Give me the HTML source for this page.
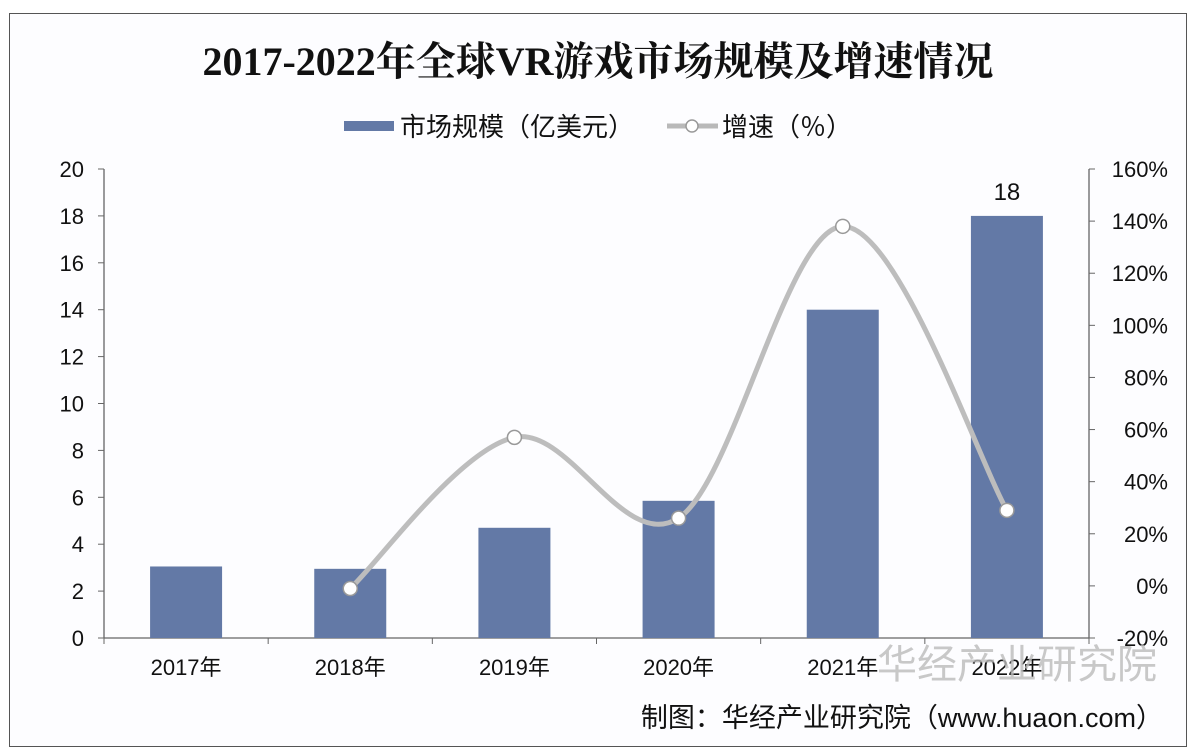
<!DOCTYPE html>
<html><head><meta charset="utf-8"><style>
html,body{margin:0;padding:0;background:#fff;}
body{width:1196px;height:756px;overflow:hidden;position:relative;font-family:"Liberation Sans","Noto Sans CJK SC",sans-serif;}
#frame{position:absolute;left:9px;top:13px;width:1178px;height:734px;border:1.5px solid #555;background:#fdfdff;box-sizing:border-box;}
</style></head><body>
<div id="frame"></div>
<svg id="chart" width="1196" height="756" style="position:absolute;left:0;top:0">
<text x="598" y="75" text-anchor="middle" font-family="Liberation Serif,Noto Serif CJK SC,serif" font-weight="bold" font-size="40" fill="#111">2017-2022年全球VR游戏市场规模及增速情况</text>
<g>
<rect x="344" y="121" width="50" height="10" fill="#6379a6"/>
<text x="400" y="136" font-size="26" fill="#111">市场规模（亿美元）</text>
<line x1="667" y1="126" x2="718" y2="126" stroke="#b9b9b9" stroke-width="5"/>
<circle cx="692" cy="126" r="6" fill="#fff" stroke="#999" stroke-width="1.5"/>
<text x="722" y="136" font-size="26" fill="#111">增速（％）</text>
</g>
<g id="axes"></g><g id="bars"></g><g id="line"></g>
<text x="1017" y="678" font-size="40" fill="#bbb" opacity="0.8" text-anchor="middle">华经产业研究院</text>
<text x="1163" y="727" text-anchor="end" font-size="27" fill="#111">制图：华经产业研究院（www.huaon.com）</text>
</svg>
<script>
const categories=["2017年","2018年","2019年","2020年","2021年","2022年"];
const marketSize=[3.05,2.95,4.7,5.85,14,18];
const growth=[null,-1,57,26,138,29];
const leftTicks=[0,2,4,6,8,10,12,14,16,18,20];
const rightTicks=[-20,0,20,40,60,80,100,120,140,160];
const NS="http://www.w3.org/2000/svg";
const X0=104,X1=1089,Y0=638,Y1=169;
const yL=v=>Y0-(v/20)*(Y0-Y1);
const yR=v=>Y0-((v+20)/180)*(Y0-Y1);
const band=(X1-X0)/categories.length;
const xC=i=>X0+band*(i+0.5);
function mk(t,a,p){const e=document.createElementNS(NS,t);for(const k in a)e.setAttribute(k,a[k]);(p||document.getElementById('chart')).appendChild(e);return e;}
const ax=document.getElementById('axes');
let e=mk('line',{x1:X0,y1:Y1,x2:X0,y2:Y0,stroke:'#666','stroke-width':1.3},ax);

e=mk('line',{x1:X1,y1:Y1,x2:X1,y2:Y0,stroke:'#666','stroke-width':1.3},ax);

e=mk('line',{x1:X0,y1:Y0,x2:X1,y2:Y0,stroke:'#666','stroke-width':1.3},ax);

leftTicks.forEach(v=>{const y=yL(v);mk('line',{x1:X0-6,y1:y,x2:X0,y2:y,stroke:'#666'},ax);
const t=mk('text',{x:84,y:y+8,'text-anchor':'end','font-size':22,fill:'#111'},ax);t.textContent=v;
});
rightTicks.forEach(v=>{const y=yR(v);mk('line',{x1:X1,y1:y,x2:X1+6,y2:y,stroke:'#666'},ax);
const t=mk('text',{x:1168,y:y+8,'text-anchor':'end','font-size':22,fill:'#111'},ax);t.textContent=v+'%';
});
for(let i=0;i<=categories.length;i++){const x=X0+band*i;mk('line',{x1:x,y1:Y0,x2:x,y2:Y0+6,stroke:'#666'},ax);}
categories.forEach((c,i)=>{const t=mk('text',{x:xC(i),y:675,'text-anchor':'middle','font-size':22,fill:'#111'},ax);t.textContent=c;
});
const bg=document.getElementById('bars');
marketSize.forEach((v,i)=>{const r=mk('rect',{x:xC(i)-36,y:yL(v),width:72,height:Y0-yL(v),fill:'#6379a6'},bg);
});
const last=marketSize.length-1;
e=mk('text',{x:xC(last),y:yL(marketSize[last])-16,'text-anchor':'middle','font-size':24,fill:'#111'},bg);e.textContent=marketSize[last];

const pts=[];growth.forEach((g,i)=>{if(g!==null)pts.push([xC(i),yR(g)]);});
let d='M'+pts[0][0]+','+pts[0][1];
for(let i=0;i<pts.length-1;i++){const p0=pts[Math.max(i-1,0)],p1=pts[i],p2=pts[i+1],p3=pts[Math.min(i+2,pts.length-1)];
const c1=[p1[0]+(p2[0]-p0[0])/6,p1[1]+(p2[1]-p0[1])/6],c2=[p2[0]-(p3[0]-p1[0])/6,p2[1]-(p3[1]-p1[1])/6];
d+=` C${c1[0]},${c1[1]} ${c2[0]},${c2[1]} ${p2[0]},${p2[1]}`;}
const lg=document.getElementById('line');
e=mk('path',{d:d,fill:'none',stroke:'#bdbdbd','stroke-width':5},lg);

pts.forEach(p=>{const c=mk('circle',{cx:p[0],cy:p[1],r:7,fill:'#fff',stroke:'#999','stroke-width':1.5},lg);
});
</script>
</body></html>
